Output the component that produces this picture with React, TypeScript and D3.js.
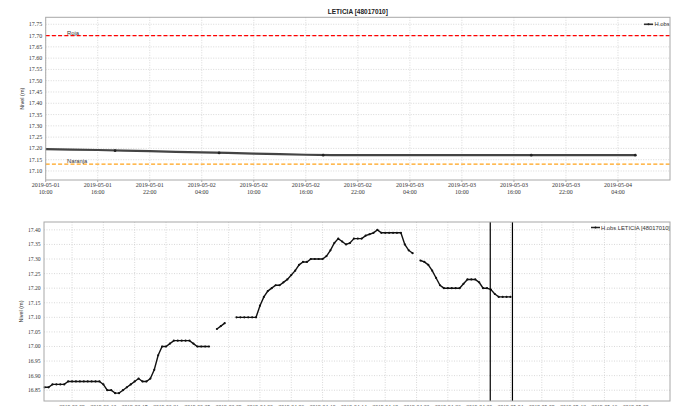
import React from 'react';
import * as d3 from 'd3';

const W = 684;
const H = 406;

const TITLE = 'LETICIA [48017010]';
const Y_LABEL = 'Nivel (m)';
const TOP_LEGEND = 'H.obs';
const BOTTOM_LEGEND = 'H.obs LETICIA [48017010]';

// ---- top panel data (observed level, 3-hourly) ----
const topTimes = [
  '2019-05-01 10:00', '2019-05-01 13:00', '2019-05-01 16:00', '2019-05-01 19:00', '2019-05-01 22:00',
  '2019-05-02 01:00', '2019-05-02 04:00', '2019-05-02 07:00', '2019-05-02 10:00', '2019-05-02 13:00',
  '2019-05-02 16:00', '2019-05-02 19:00', '2019-05-02 22:00', '2019-05-03 01:00', '2019-05-03 04:00',
  '2019-05-03 07:00', '2019-05-03 10:00', '2019-05-03 13:00', '2019-05-03 16:00', '2019-05-03 19:00',
  '2019-05-03 22:00', '2019-05-04 01:00', '2019-05-04 04:00', '2019-05-04 06:00',
];
const topValues = [
  17.197, 17.195, 17.193, 17.19, 17.188,
  17.185, 17.182, 17.18, 17.177, 17.175,
  17.172, 17.17, 17.17, 17.17, 17.17,
  17.17, 17.17, 17.17, 17.17, 17.17,
  17.17, 17.17, 17.17, 17.17,
];
const topMarkerTimes = ['2019-05-01 18:00', '2019-05-02 06:00', '2019-05-02 18:00', '2019-05-03 18:00', '2019-05-04 06:00'];
const topMarkerValues = [17.19, 17.18, 17.17, 17.17, 17.17];

const thresholdNames = ['Roja', 'Naranja'];
const thresholdValues = [17.70, 17.13];
const thresholdColors = ['#ff0000', '#ffa31a'];

const topYTicks = [17.10, 17.15, 17.20, 17.25, 17.30, 17.35, 17.40, 17.45, 17.50, 17.55, 17.60, 17.65, 17.70, 17.75];
const topXTicks = [
  '2019-05-01 10:00', '2019-05-01 16:00', '2019-05-01 22:00', '2019-05-02 04:00',
  '2019-05-02 10:00', '2019-05-02 16:00', '2019-05-02 22:00', '2019-05-03 04:00',
  '2019-05-03 10:00', '2019-05-03 16:00', '2019-05-03 22:00', '2019-05-04 04:00',
];
const topXDomain = ['2019-05-01 10:00', '2019-05-04 10:00'];

// ---- bottom panel data (12-hourly, from bottomStart) ----
const bottomStart = '2019-03-05 12:00';
const bottomStepHours = 12;
const bottomValues: (number | null)[] = [
  16.86, 16.86, 16.87, 16.87, 16.87, 16.87, 16.88,            // 03-05 12h .. 03-08 12h
  16.88, 16.88, 16.88, 16.88, 16.88, 16.88, 16.88, 16.88,     // 03-09 .. 03-12 12h
  16.87, 16.85, 16.85, 16.84, 16.84, 16.85, 16.86, 16.87,     // 03-13 .. 03-16 12h
  16.88, 16.89, 16.88, 16.88, 16.89, 16.92, 16.97, 17.00,     // 03-17 .. 03-20 12h
  17.00, 17.01, 17.02, 17.02, 17.02, 17.02, 17.02, 17.01,     // 03-21 .. 03-24 12h
  17.00, 17.00, 17.00, 17.00, null, 17.06, 17.07, 17.08,      // 03-25 .. 03-28 12h
  null, null, 17.10, 17.10, 17.10, 17.10, 17.10, 17.10,       // 03-29 .. 04-01 12h
  17.14, 17.17, 17.19, 17.20, 17.21, 17.21, 17.22, 17.23,     // 04-02 .. 04-05 12h
  17.245, 17.26, 17.28, 17.29, 17.29, 17.30, 17.30, 17.30,    // 04-06 .. 04-09 12h
  17.30, 17.31, 17.33, 17.355, 17.37, 17.36, 17.35, 17.355,   // 04-10 .. 04-13 12h
  17.37, 17.37, 17.37, 17.38, 17.385, 17.39, 17.40, 17.39,    // 04-14 .. 04-17 12h
  17.39, 17.39, 17.39, 17.39, 17.39, 17.35, 17.33, 17.32,     // 04-18 .. 04-21 12h
  null, 17.295, 17.29, 17.28, 17.26, 17.235, 17.21, 17.20,    // 04-22 .. 04-25 12h
  17.20, 17.20, 17.20, 17.20, 17.215, 17.23, 17.23, 17.23,    // 04-26 .. 04-29 12h
  17.22, 17.20, 17.20, 17.195, 17.18, 17.17, 17.17, 17.17,    // 04-30 .. 05-03 12h
  17.17,                                                      // 05-04
];
const windowStart = '2019-05-01 10:00';
const windowEnd = '2019-05-04 06:00';

const bottomYTicks = [16.85, 16.90, 16.95, 17.00, 17.05, 17.10, 17.15, 17.20, 17.25, 17.30, 17.35, 17.40];
const bottomXTicks = [
  '2019-03-09', '2019-03-13', '2019-03-17', '2019-03-21', '2019-03-25', '2019-03-29', '2019-04-02',
  '2019-04-06', '2019-04-10', '2019-04-14', '2019-04-18', '2019-04-22', '2019-04-26', '2019-04-30',
  '2019-05-04', '2019-05-08', '2019-05-12', '2019-05-16', '2019-05-20',
];
const bottomXDomain = ['2019-03-05 10:00', '2019-05-24 09:00'];

const parseDT = d3.utcParse('%Y-%m-%d %H:%M');
const parseD = d3.utcParse('%Y-%m-%d');
const fmtDay = d3.utcFormat('%Y-%m-%d');
const fmtHour = d3.utcFormat('%H:%M');

const SERIF = '"Liberation Serif", "DejaVu Serif", serif';
const SANS = '"Liberation Sans", "DejaVu Sans", sans-serif';
const GRID = '#c8c8c8';
const FRAME = '#a8a8a8';

export default function App() {
  // ---- top panel ----
  const tL = 45.7, tR = 670, tT = 17.3, tB = 180;
  const tx = d3.scaleUtc().domain(topXDomain.map((s) => parseDT(s)!)).range([tL, tR]);
  const ty = d3.scaleLinear().domain([17.06, 17.781]).range([tB, tT]);
  const topData = topTimes.map((t, i) => ({ t: parseDT(t)!, v: topValues[i] }));
  const topLine = d3.line<{ t: Date; v: number }>().x((d) => tx(d.t)).y((d) => ty(d.v));

  // ---- bottom panel ----
  const bL = 44, bR = 670, bT = 222, bB = 401;
  const bx = d3.scaleUtc().domain(bottomXDomain.map((s) => parseDT(s)!)).range([bL, bR]);
  const by = d3.scaleLinear().domain([16.813, 17.427]).range([bB, bT]);
  const start = parseDT(bottomStart)!;
  const bottomData = bottomValues.map((v, i) => ({
    t: d3.utcHour.offset(start, i * bottomStepHours),
    v,
  }));
  const bottomLine = d3
    .line<{ t: Date; v: number | null }>()
    .defined((d) => d.v !== null)
    .x((d) => bx(d.t))
    .y((d) => by(d.v as number));

  return (
    <div style={{ position: 'absolute', left: 0, top: 0 }}>
      <svg width={W} height={H} style={{ display: 'block', background: '#fff' }}>
        {/* ===== TOP PANEL ===== */}
        <text x={(tL + tR) / 2} y={13.5} textAnchor="middle" fontFamily={SANS} fontWeight="bold" fontSize={6.5} fill="#222">
          {TITLE}
        </text>
        {topYTicks.map((v) => (
          <g key={'tyg' + v}>
            <line x1={tL} x2={tR} y1={ty(v)} y2={ty(v)} stroke={GRID} strokeWidth={0.7} strokeDasharray="1,1.5" />
            <text x={tL - 3.5} y={ty(v) + 2} textAnchor="end" fontFamily={SERIF} fontSize={6} fill="#333">
              {v.toFixed(2)}
            </text>
          </g>
        ))}
        {topXTicks.map((s) => {
          const d = parseDT(s)!;
          const x = tx(d);
          return (
            <g key={'txg' + s}>
              <line x1={x} x2={x} y1={tT} y2={tB} stroke={GRID} strokeWidth={0.7} strokeDasharray="1,1.5" />
              <line x1={x} x2={x} y1={tB} y2={tB + 2} stroke="#777" strokeWidth={0.6} />
              <text x={x} y={tB + 7} textAnchor="middle" fontFamily={SERIF} fontSize={6} fill="#333">
                {fmtDay(d)}
              </text>
              <text x={x} y={tB + 14} textAnchor="middle" fontFamily={SERIF} fontSize={6} fill="#333">
                {fmtHour(d)}
              </text>
            </g>
          );
        })}
        <text
          transform={`translate(${24},${(tT + tB) / 2}) rotate(-90)`}
          textAnchor="middle"
          fontFamily={SANS}
          fontSize={5.5}
          fill="#333"
        >
          {Y_LABEL}
        </text>
        {thresholdValues.map((v, i) => (
          <g key={'thr' + i}>
            <line
              x1={tL}
              x2={tR}
              y1={ty(v)}
              y2={ty(v)}
              stroke={thresholdColors[i]}
              strokeWidth={1.3}
              strokeDasharray="4,2.2"
            />
            <text x={67} y={ty(v) - 0.8} fontFamily={SANS} fontSize={5.8} fill="#333">
              {thresholdNames[i]}
            </text>
          </g>
        ))}
        <path d={topLine(topData) || ''} fill="none" stroke="#444" strokeWidth={2.2} />
        {topMarkerTimes.map((s, i) => (
          <circle key={'tm' + i} cx={tx(parseDT(s)!)} cy={ty(topMarkerValues[i])} r={1.4} fill="#222" />
        ))}
        <line x1={644} x2={653} y1={24.3} y2={24.3} stroke="#333" strokeWidth={1.6} />
        <circle cx={648.5} cy={24.3} r={1} fill="#222" />
        <text x={654.5} y={26.4} fontFamily={SANS} fontSize={5.8} fill="#333">
          {TOP_LEGEND}
        </text>
        <rect x={tL} y={tT} width={tR - tL} height={tB - tT} fill="none" stroke={FRAME} strokeWidth={1} />

        {/* ===== BOTTOM PANEL ===== */}
        {bottomYTicks.map((v) => (
          <g key={'byg' + v}>
            <line x1={bL} x2={bR} y1={by(v)} y2={by(v)} stroke={GRID} strokeWidth={0.7} strokeDasharray="1,1.5" />
            <text x={bL - 3.5} y={by(v) + 2} textAnchor="end" fontFamily={SERIF} fontSize={5.6} fill="#333">
              {v.toFixed(2)}
            </text>
          </g>
        ))}
        {bottomXTicks.map((s) => {
          const d = parseD(s)!;
          const x = bx(d);
          return (
            <g key={'bxg' + s}>
              <line x1={x} x2={x} y1={bT} y2={bB} stroke={GRID} strokeWidth={0.7} strokeDasharray="1,1.5" />
              <text x={x} y={bB + 7.5} textAnchor="middle" fontFamily={SERIF} fontSize={5.5} fill="#333">
                {fmtDay(d)}
              </text>
            </g>
          );
        })}
        <text
          transform={`translate(${23},${(bT + bB) / 2}) rotate(-90)`}
          textAnchor="middle"
          fontFamily={SANS}
          fontSize={5.5}
          fill="#333"
        >
          {Y_LABEL}
        </text>
        <path d={bottomLine(bottomData) || ''} fill="none" stroke="#111" strokeWidth={1.4} />
        {bottomData
          .filter((d) => d.v !== null)
          .map((d, i) => (
            <circle key={'bm' + i} cx={bx(d.t)} cy={by(d.v as number)} r={1.1} fill="#111" />
          ))}
        {[windowStart, windowEnd].map((s) => {
          const x = bx(parseDT(s)!);
          return <line key={'win' + s} x1={x} x2={x} y1={bT} y2={bB} stroke="#000" strokeWidth={1.2} />;
        })}
        <line x1={591} x2={600} y1={227.5} y2={227.5} stroke="#222" strokeWidth={1.5} />
        <circle cx={595.5} cy={227.5} r={1} fill="#111" />
        <text x={601} y={229.6} fontFamily={SANS} fontSize={5.8} fill="#333">
          {BOTTOM_LEGEND}
        </text>
        <rect x={bL} y={bT} width={bR - bL} height={bB - bT} fill="none" stroke={FRAME} strokeWidth={1} />
      </svg>
    </div>
  );
}
